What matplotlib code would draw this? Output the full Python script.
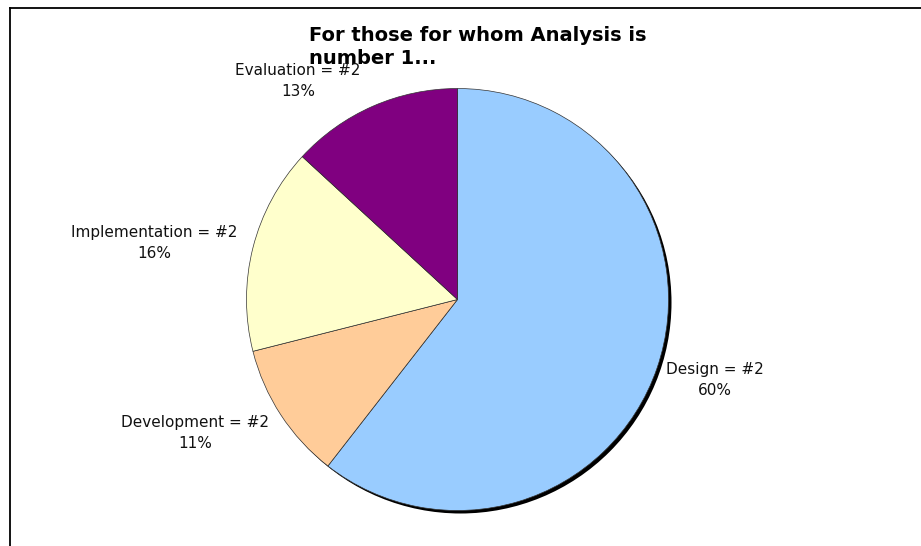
import matplotlib.pyplot as plt
from matplotlib.lines import Line2D
from matplotlib.patches import Circle

plt.rcParams['font.family'] = ['DejaVu Sans']

phases = ['Design', 'Development', 'Implementation', 'Evaluation']
counts = [23, 4, 6, 5]
pct_labels = ['60%', '11%', '16%', '13%']
colors = ['#99CCFF', '#FFCC99', '#FFFFCC', '#800080']

W, H = 921, 546
fig = plt.figure(figsize=(W / 100, H / 100), dpi=100)
ax = fig.add_axes([0, 0, 1, 1])

# pie geometry in pixels
cx, cy, r = 457.5, 299.5, 211.0

ax.pie(counts, colors=colors, startangle=90, counterclock=False,
       radius=1.0, wedgeprops=dict(edgecolor='#333333', linewidth=0.5))
# drop shadow behind the pie
ax.add_patch(Circle((3.0 / r, -3.0 / r), 1.0, facecolor='black',
                    edgecolor='none', zorder=0))
ax.set_xlim(-cx / r, (W - cx) / r)
ax.set_ylim(-(H - cy) / r, cy / r)
ax.set_aspect('auto')
ax.axis('off')

# chart area frame (clipped on right and bottom)
fig.add_artist(Line2D([9.5 / W, 9.5 / W], [0, 1 - 7.5 / H],
                      transform=fig.transFigure, color='black', lw=1.3))
fig.add_artist(Line2D([9.5 / W, 1], [1 - 7.5 / H, 1 - 7.5 / H],
                      transform=fig.transFigure, color='black', lw=1.3))

fig.text(309 / W, 1 - 26 / H, 'For those for whom Analysis is\nnumber 1...',
         ha='left', va='top', fontsize=14, fontweight='bold',
         linespacing=1.3, color='black')

# label centres in pixels
label_pos = [(715, 380), (195, 433), (154, 243), (298, 81)]
for name, pct, (lx, ly) in zip(phases, pct_labels, label_pos):
    fig.text(lx / W, 1 - ly / H, f'{name} = #2\n{pct}', ha='center',
             va='center', fontsize=11, linespacing=1.45, color='#111111')

fig.savefig('out.png', dpi=100)
